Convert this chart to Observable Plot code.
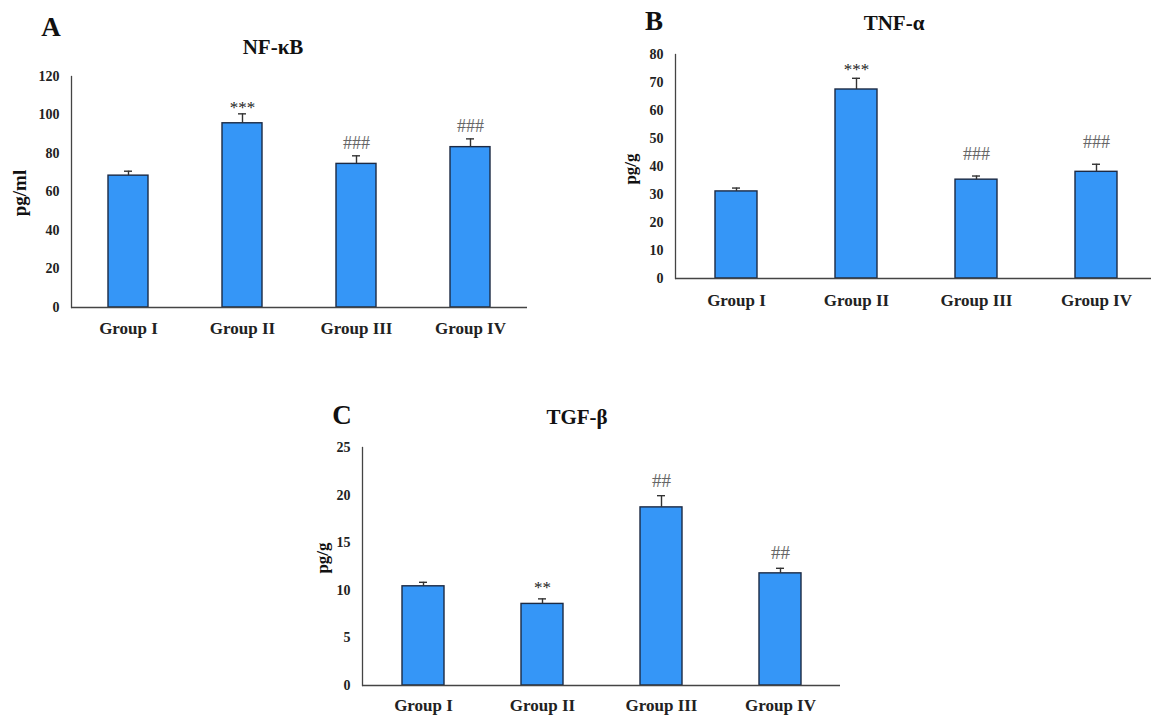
<!DOCTYPE html>
<html>
<head>
<meta charset="utf-8">
<script src="https://cdn.jsdelivr.net/npm/d3@7"></script>
<script src="https://cdn.jsdelivr.net/npm/@observablehq/plot@0.6"></script>
<style>
  html, body { margin: 0; padding: 0; background: #fff; overflow: hidden; }
  #root { position: relative; width: 1151px; height: 715px; overflow: hidden; font-family: "Liberation Serif", "Times New Roman", serif; }
  .panel { position: absolute; }
  .lbl { position: absolute; transform: translate(-50%, -50%); font-weight: bold; color: #111; white-space: nowrap; line-height: 1; }
  .ylab { position: absolute; transform: translate(-50%, -50%) rotate(-90deg); font-weight: bold; color: #111; white-space: nowrap; line-height: 1; }
</style>
</head>
<body>
<div id="root"></div>
<script>
// ---- data ----
const groups = ["Group I", "Group II", "Group III", "Group IV"];

const nfkbValues = [68.5, 95.7, 74.6, 83.3];
const nfkbErrors = [2.3, 4.9, 4.2, 4.3];
const nfkbSig = ["", "***", "###", "###"];
const nfkbTicks = [0, 20, 40, 60, 80, 100, 120];

const tnfValues = [31.1, 67.5, 35.3, 38.1];
const tnfErrors = [1.2, 4.0, 1.3, 2.7];
const tnfSig = ["", "***", "###", "###"];
const tnfTicks = [0, 10, 20, 30, 40, 50, 60, 70, 80];

const tgfValues = [10.42, 8.57, 18.71, 11.78];
const tgfErrors = [0.42, 0.53, 1.23, 0.53];
const tgfSig = ["", "**", "##", "##"];
const tgfTicks = [0, 5, 10, 15, 20, 25];

const BLUE = "#3596f7";
const root = document.getElementById("root");

function table(values, errors, sig) {
  return groups.map((g, i) => ({group: g, value: values[i], upper: values[i] + errors[i], sig: sig[i]}));
}

function panel(cfg) {
  const data = table(cfg.values, cfg.errors, cfg.sig);
  const chart = Plot.plot({
    width: cfg.width, height: cfg.height,
    marginLeft: cfg.ml, marginRight: cfg.mr, marginTop: cfg.mt, marginBottom: cfg.mb,
    style: {fontFamily: "'Liberation Serif', 'Times New Roman', serif", fontWeight: "bold", fontSize: "14px", color: "#222", background: "transparent", overflow: "visible"},
    x: {domain: groups, paddingInner: 0.65, paddingOuter: 0.325, label: null},
    y: {domain: [0, cfg.ymax], label: null},
    marks: [
      Plot.barY(data, {x: "group", y: "value", fill: BLUE, stroke: "#1c2a44", strokeWidth: 1.4}),
      Plot.ruleX(data, {x: "group", y1: "value", y2: "upper", stroke: "#333", strokeWidth: 1.4}),
      Plot.tickY(data, {x: "group", y: "upper", stroke: "#333", strokeWidth: 1.4, insetLeft: cfg.capInset, insetRight: cfg.capInset}),
      Plot.text(data.filter(d => d.sig.includes("*")), {x: "group", y: "upper", text: "sig", dy: cfg.starDy, fontSize: 17, fontWeight: "normal", fill: "#222"}),
      Plot.text(data.filter(d => d.sig.includes("#")), {x: "group", y: "upper", text: "sig", dy: cfg.hashDy, fontSize: cfg.hashSize, fontWeight: "normal", fill: "#666"}),
      Plot.axisY({ticks: cfg.ticks, tickSize: 0, tickPadding: 12, label: null, fontSize: 14, tickFormat: d => String(d)}),
      Plot.axisX({tickSize: 0, tickPadding: cfg.xPad, label: null, fontSize: 17}),
      Plot.frame({anchor: "left", stroke: "#444", strokeWidth: 1.3}),
      Plot.ruleY([0], {stroke: "#444", strokeWidth: 1.3})
    ]
  });
  const div = document.createElement("div");
  div.className = "panel";
  div.style.left = cfg.left + "px";
  div.style.top = cfg.top + "px";
  div.style.width = (cfg.width + 10) + "px";
  div.appendChild(chart);
  root.appendChild(div);

  const letter = document.createElement("div");
  letter.className = "lbl";
  letter.textContent = cfg.letter;
  letter.style.fontSize = "27px";
  letter.style.left = cfg.letterX + "px";
  letter.style.top = cfg.letterY + "px";
  root.appendChild(letter);

  const title = document.createElement("div");
  title.className = "lbl";
  title.textContent = cfg.title;
  title.style.fontSize = "21px";
  title.style.left = cfg.titleX + "px";
  title.style.top = cfg.titleY + "px";
  root.appendChild(title);

  const ylab = document.createElement("div");
  ylab.className = "ylab";
  ylab.textContent = cfg.ylabel;
  ylab.style.fontSize = cfg.ylabSize + "px";
  ylab.style.left = cfg.ylabX + "px";
  ylab.style.top = cfg.ylabY + "px";
  root.appendChild(ylab);
}

panel({
  values: nfkbValues, errors: nfkbErrors, sig: nfkbSig, ticks: nfkbTicks, ymax: 120,
  left: 0, top: 0, width: 530, height: 345, ml: 71, mr: 3, mt: 76, mb: 38,
  capInset: 16, starDy: -6, hashDy: -13, hashSize: 18, xPad: 14,
  letter: "A", letterX: 51, letterY: 27,
  title: "NF-κB", titleX: 273, titleY: 47,
  ylabel: "pg/ml", ylabSize: 19, ylabX: 19, ylabY: 193
});

panel({
  values: tnfValues, errors: tnfErrors, sig: tnfSig, ticks: tnfTicks, ymax: 80,
  left: 580, top: 0, width: 580, height: 320, ml: 95, mr: 3, mt: 54, mb: 42,
  capInset: 17, starDy: -9, hashDy: -22, hashSize: 18, xPad: 15,
  letter: "B", letterX: 654, letterY: 21,
  title: "TNF-α", titleX: 894, titleY: 23,
  ylabel: "pg/g", ylabSize: 17, ylabX: 630, ylabY: 169
});

panel({
  values: tgfValues, errors: tgfErrors, sig: tgfSig, ticks: tgfTicks, ymax: 25,
  left: 300, top: 390, width: 545, height: 325, ml: 62, mr: 5, mt: 57, mb: 30,
  capInset: 17, starDy: -11, hashDy: -15, hashSize: 19, xPad: 13,
  letter: "C", letterX: 342, letterY: 415,
  title: "TGF-β", titleX: 577, titleY: 417,
  ylabel: "pg/g", ylabSize: 17, ylabX: 322, ylabY: 558
});
</script>
</body>
</html>
